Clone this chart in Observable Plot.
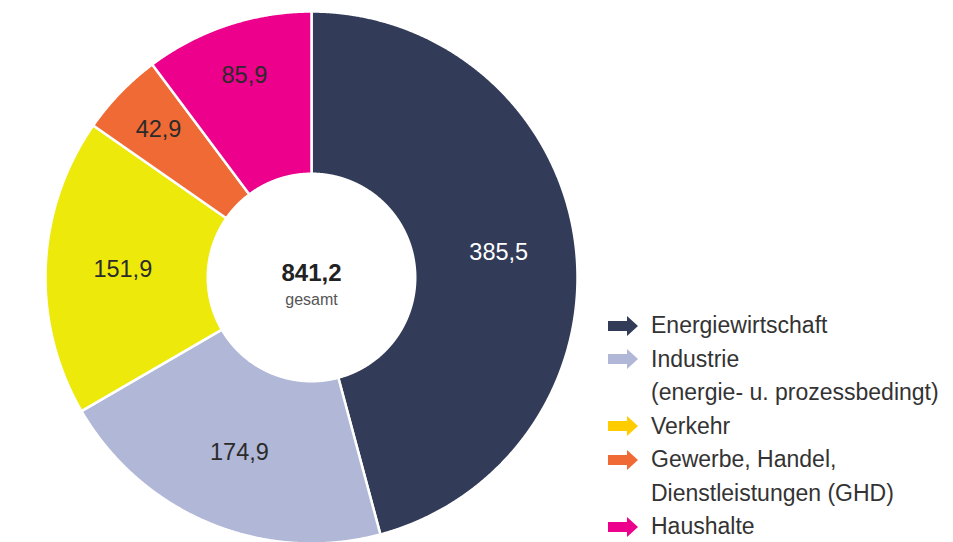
<!DOCTYPE html>
<html>
<head>
<meta charset="utf-8">
<script src="https://cdn.jsdelivr.net/npm/d3@7"></script>
<script src="https://cdn.jsdelivr.net/npm/@observablehq/plot@0.6"></script>
<style>
  html, body { margin: 0; padding: 0; background: #fff; }
  #wrap { position: relative; width: 953px; height: 542px; overflow: hidden; font-family: "Liberation Sans", Arial, Helvetica, sans-serif; }
  #legend { position: absolute; left: 608px; top: 309px; color: #333; font-size: 23px; line-height: 33.5px; }
  #legend .row { display: flex; align-items: center; height: 33.5px; white-space: nowrap; }
  #legend .sw { width: 30px; height: 20px; margin-right: 13px; flex: none; }
  #legend .cont { padding-left: 43px; height: 33.5px; white-space: nowrap; }
</style>
</head>
<body>
<div id="wrap"><div id="chart"></div><div id="legend"></div></div>
<script>
const categories = ["Energiewirtschaft", "Industrie", "Verkehr", "Gewerbe, Handel, Dienstleistungen (GHD)", "Haushalte"];
const values = [385.5, 174.9, 151.9, 42.9, 85.9];
const valueLabels = ["385,5", "174,9", "151,9", "42,9", "85,9"];
const totalLabel = "841,2";
const totalCaption = "gesamt";
const legendLines = [
  ["Energiewirtschaft"],
  ["Industrie", "(energie- u. prozessbedingt)"],
  ["Verkehr"],
  ["Gewerbe, Handel,", "Dienstleistungen (GHD)"],
  ["Haushalte"]
];
const sliceColors = ["#323b58", "#b0b7d7", "#ede90b", "#f06a35", "#ec008c"];
const arrowColors = ["#323b58", "#b0b7d7", "#ffcc00", "#f06a35", "#ec008c"];
const labelColors = ["#ffffff", "#2b2b2b", "#2b2b2b", "#2b2b2b", "#2b2b2b"];

const innerR = 0.39;
const pie = d3.pie().sort(null).value(d => d)(values);

// polygon outline for each slice (geometry derived from data via d3.pie)
const polys = [];
pie.forEach((p, i) => {
  const a0 = p.startAngle, a1 = p.endAngle;
  const n = Math.max(8, Math.ceil((a1 - a0) / 0.004));
  for (let k = 0; k <= n; k++) {
    const a = a0 + (a1 - a0) * k / n;
    polys.push({cat: categories[i], x: Math.sin(a), y: Math.cos(a)});
  }
  for (let k = n; k >= 0; k--) {
    const a = a0 + (a1 - a0) * k / n;
    polys.push({cat: categories[i], x: innerR * Math.sin(a), y: innerR * Math.cos(a)});
  }
  polys.push({cat: categories[i], x: Math.sin(a0), y: Math.cos(a0)});
});

const labelData = pie.map((p, i) => {
  const a = (p.startAngle + p.endAngle) / 2;
  const r = values[i] < 100 ? 0.80 : 0.71;
  return {text: valueLabels[i], x: r * Math.sin(a), y: r * Math.cos(a), color: labelColors[i]};
});

const plot = Plot.plot({
  width: 953,
  height: 542,
  x: {domain: [-1, 1], range: [45, 577], axis: null},
  y: {domain: [-1, 1], range: [543, 11], axis: null},
  color: {domain: categories, range: sliceColors},
  style: {fontFamily: '"Liberation Sans", Arial, Helvetica, sans-serif', background: "#fff"},
  marks: [
    Plot.line(polys, {x: "x", y: "y", z: "cat", fill: "cat", stroke: "#ffffff", strokeWidth: 2.5, strokeLinejoin: "round"}),
    Plot.text(labelData, {x: "x", y: "y", text: "text", fill: "color", fontSize: 23.5}),
    Plot.text([totalLabel], {x: () => 0, y: () => 0, text: d => d, dy: -4, fontSize: 24, fontWeight: "bold", fill: "#222"}),
    Plot.text([totalCaption], {x: () => 0, y: () => 0, text: d => d, dy: 22, fontSize: 16, fill: "#555"})
  ]
});
document.getElementById("chart").appendChild(plot);

const legend = document.getElementById("legend");
legendLines.forEach((lines, i) => {
  const row = document.createElement("div");
  row.className = "row";
  row.innerHTML = `<svg class="sw" viewBox="0 0 30 20"><path d="M0,5 H19 V0 L30,10 L19,20 V15 H0 Z" fill="${arrowColors[i]}"/></svg><span>${lines[0]}</span>`;
  legend.appendChild(row);
  for (let j = 1; j < lines.length; j++) {
    const c = document.createElement("div");
    c.className = "cont";
    c.textContent = lines[j];
    legend.appendChild(c);
  }
});
</script>
</body>
</html>
